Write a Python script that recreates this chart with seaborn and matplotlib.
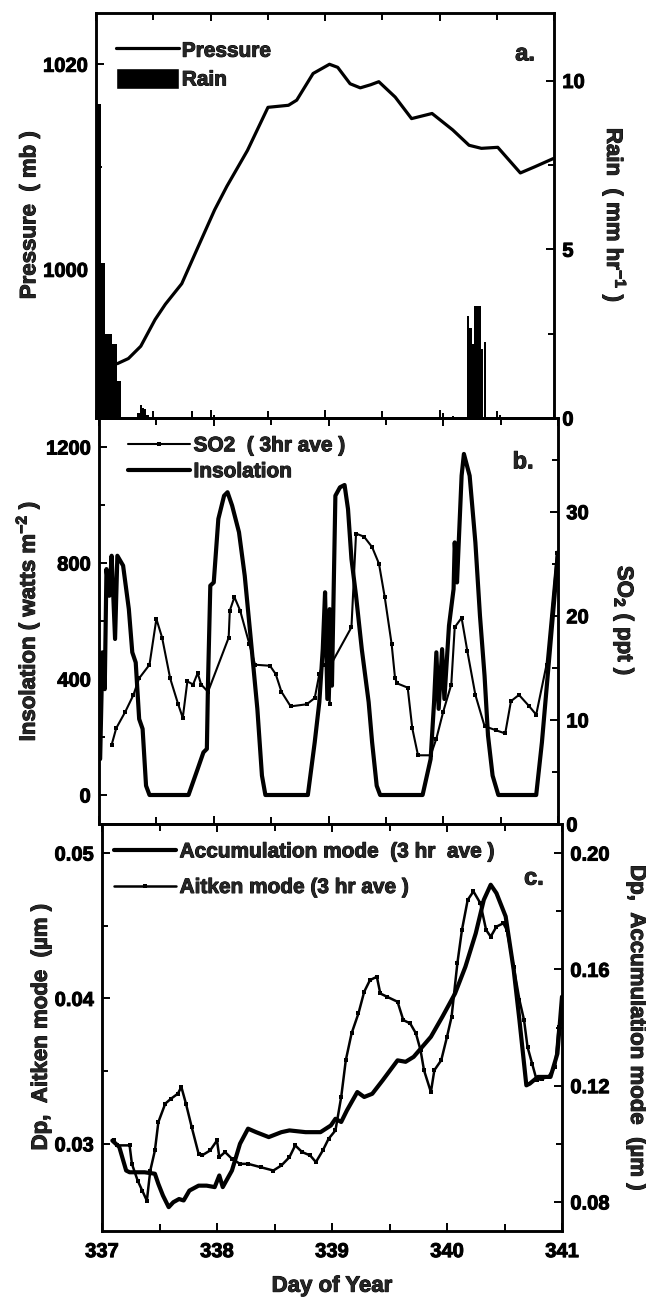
import numpy as np
import pandas as pd
import matplotlib
matplotlib.use("Agg")
import matplotlib.pyplot as plt
import matplotlib.patheffects as pe
import seaborn as sns
from matplotlib.lines import Line2D
from matplotlib.patches import Patch
from matplotlib.text import Text
from matplotlib.ticker import MultipleLocator, FixedLocator, FormatStrFormatter

# ---------------- data ----------------
press_day = [337.186, 337.283, 337.391, 337.516, 337.606, 337.749, 337.892, 338.036, 338.143,
             338.323, 338.502, 338.681, 338.753, 338.896, 339.039, 339.111, 339.219, 339.308,
             339.398, 339.470, 339.613, 339.756, 339.935, 340.115, 340.258, 340.366, 340.509,
             340.706, 340.832, 340.993]
press_mb = [990.8, 991.3, 992.5, 995.1, 996.6, 998.6, 1002.2, 1005.8, 1008.1,
            1011.6, 1015.8, 1016.0, 1016.5, 1019.1, 1020.0, 1019.7, 1018.1, 1017.7,
            1018.0, 1018.3, 1016.8, 1014.7, 1015.2, 1013.6, 1012.1, 1011.8, 1011.9,
            1009.4, 1010.0, 1010.8]

rain_day = [337.010, 337.030, 337.050, 337.070, 337.090, 337.110, 337.130, 337.150, 337.170,
            337.190, 337.210, 337.370, 337.390, 337.410, 337.430, 337.450, 337.840, 338.030,
            340.030, 340.120, 340.250, 340.270, 340.290, 340.310, 340.330, 340.350, 340.370,
            340.400, 340.530]
rain_mm = [9.3, 9.3, 4.6, 4.6, 2.5, 2.5, 2.5, 2.2, 2.2,
           1.1, 1.1, 0.15, 0.4, 0.3, 0.28, 0.1, 0.22, 0.1,
           0.15, 0.05, 3.03, 2.68, 2.18, 3.32, 3.32, 3.32, 2.03,
           2.26, 0.1]

ins_day = [337.01, 337.03, 337.05, 337.065, 337.09, 337.11, 337.14, 337.16, 337.21, 337.26,
           337.29, 337.32, 337.35, 337.38, 337.41, 337.44, 337.78, 337.86, 337.91, 337.94,
           337.95, 337.97, 338.00, 338.04, 338.09, 338.12, 338.16, 338.22, 338.27, 338.32,
           338.38, 338.42, 338.45, 338.82, 338.88, 338.92, 338.95, 338.97, 338.99, 339.01,
           339.03, 339.06, 339.10, 339.14, 339.17, 339.20, 339.24, 339.29, 339.35, 339.38,
           339.42, 339.45, 339.82, 339.89, 339.92, 339.94, 339.96, 339.99, 340.01, 340.05,
           340.09, 340.10, 340.12, 340.16, 340.18, 340.23, 340.28, 340.32, 340.36, 340.39,
           340.43, 340.48, 340.81, 340.86, 340.91, 340.97, 341.00]
ins_wm2 = [124, 492, 365, 779, 687, 825, 538, 825, 791, 641,
           492, 457, 262, 228, 32, 0, 0, 90, 147, 159,
           388, 722, 733, 952, 1032, 1044, 998, 906, 756, 549,
           297, 67, 0, 0, 182, 320, 503, 699, 331, 641,
           377, 1032, 1061, 1069, 986, 814, 687, 503, 320, 182,
           32, 0, 0, 124, 320, 492, 297, 503, 331, 584,
           710, 871, 733, 1101, 1176, 1101, 871, 618, 411, 205,
           67, 0, 0, 182, 411, 687, 837]

so2_day = [337.11, 337.15, 337.23, 337.30, 337.35, 337.44, 337.50, 337.55, 337.62, 337.69,
           337.73, 337.77, 337.82, 337.86, 337.89, 337.95, 338.13, 338.14, 338.18, 338.23,
           338.31, 338.36, 338.49, 338.54, 338.59, 338.67, 338.81, 338.88, 338.92, 338.95,
           338.97, 339.01, 339.02, 339.20, 339.24, 339.31, 339.38, 339.44, 339.49, 339.55,
           339.58, 339.60, 339.69, 339.73, 339.78, 339.89, 339.94, 340.00, 340.07, 340.10,
           340.16, 340.21, 340.28, 340.36, 340.46, 340.54, 340.59, 340.66, 340.75, 340.81,
           340.90, 340.99]
so2_ppt = [7.6, 9.2, 10.8, 12.4, 14.0, 15.3, 19.7, 17.9, 14.0, 11.5,
           10.2, 13.7, 13.4, 14.5, 13.4, 12.7, 17.9, 20.5, 21.8, 20.5,
           17.3, 15.3, 15.2, 14.4, 12.7, 11.3, 11.5, 12.1, 14.4, 15.3,
           22.1, 11.5, 15.3, 18.9, 27.9, 27.6, 26.6, 25.0, 21.8, 17.3,
           14.0, 13.5, 13.1, 9.2, 6.6, 6.6, 8.2, 10.8, 13.4, 18.9,
           19.8, 16.6, 12.4, 9.4, 9.0, 8.7, 11.8, 12.4, 11.3, 10.5,
           15.3, 26.0]

acc_day = [337.09, 337.15, 337.21, 337.24, 337.37, 337.46, 337.49, 337.53, 337.58, 337.62,
           337.67, 337.71, 337.76, 337.84, 337.91, 337.98, 338.02, 338.05, 338.13, 338.20,
           338.27, 338.34, 338.45, 338.56, 338.63, 338.77, 338.90, 338.99, 339.03, 339.08,
           339.13, 339.22, 339.28, 339.35, 339.44, 339.57, 339.64, 339.71, 339.86, 339.96,
           340.07, 340.16, 340.25, 340.32, 340.38, 340.43, 340.51, 340.58, 340.63, 340.69,
           340.72, 340.79, 340.90, 340.96, 341.00]
acc_um = [0.1011, 0.0989, 0.0908, 0.0902, 0.0902, 0.0897, 0.0862, 0.0822, 0.0782, 0.0799,
          0.0810, 0.0805, 0.0839, 0.0856, 0.0856, 0.0851, 0.0891, 0.0851, 0.0908, 0.1000,
          0.1052, 0.1040, 0.1023, 0.1040, 0.1046, 0.1040, 0.1040, 0.1063, 0.1086, 0.1075,
          0.1115, 0.1178, 0.1161, 0.1172, 0.1218, 0.1287, 0.1282, 0.1299, 0.1368, 0.1437,
          0.1517, 0.1609, 0.1724, 0.1839, 0.1891, 0.1862, 0.1782, 0.1598, 0.1425, 0.1201,
          0.1207, 0.1230, 0.1230, 0.1310, 0.1506]

ait_day = [337.10, 337.13, 337.24, 337.26, 337.31, 337.35, 337.39, 337.42, 337.46, 337.49,
           337.55, 337.60, 337.66, 337.69, 337.73, 337.78, 337.84, 337.87, 337.94, 338.00,
           338.02, 338.07, 338.13, 338.20, 338.27, 338.38, 338.49, 338.56, 338.63, 338.68,
           338.74, 338.81, 338.86, 338.92, 338.97, 339.03, 339.08, 339.12, 339.17, 339.23,
           339.28, 339.33, 339.39, 339.42, 339.48, 339.57, 339.62, 339.68, 339.73, 339.77,
           339.80, 339.86, 339.89, 339.95, 340.00, 340.04, 340.09, 340.13, 340.18, 340.23,
           340.29, 340.34, 340.38, 340.43, 340.49, 340.52, 340.58, 340.63, 340.67, 340.70,
           340.74, 340.78, 340.83, 340.88, 340.94, 340.97]
ait_um = [0.03023, 0.02989, 0.02989, 0.02862, 0.02747, 0.02678, 0.02609, 0.02816, 0.02954, 0.03149,
          0.03276, 0.03310, 0.03345, 0.03391, 0.03276, 0.03115, 0.02931, 0.02920, 0.02954, 0.03023,
          0.02908, 0.02943, 0.02897, 0.02862, 0.02862, 0.02839, 0.02816, 0.02851, 0.02908, 0.02989,
          0.02943, 0.02920, 0.02874, 0.02954, 0.03034, 0.03092, 0.03322, 0.03575, 0.03759, 0.03897,
          0.04046, 0.04126, 0.04149, 0.04034, 0.04011, 0.03977, 0.03851, 0.03828, 0.03759, 0.03644,
          0.03506, 0.03356, 0.03506, 0.03575, 0.03736, 0.03874, 0.04241, 0.04471, 0.04678, 0.04736,
          0.04655, 0.04471, 0.04425, 0.04494, 0.04517, 0.04471, 0.04218, 0.03989, 0.03851, 0.03667,
          0.03552, 0.03437, 0.03448, 0.03460, 0.03529, 0.03805]

x_ticks = [337, 338, 339, 340, 341]

# ---------------- style ----------------
sns.set_theme(style="ticks")
plt.rcParams["font.family"] = ["Liberation Sans", "DejaVu Sans"]
plt.rcParams["font.weight"] = "bold"
plt.rcParams["axes.labelweight"] = "bold"
plt.rcParams["mathtext.fontset"] = "custom"
plt.rcParams["mathtext.rm"] = "Liberation Sans:bold"
plt.rcParams["mathtext.it"] = "Liberation Sans:bold"
plt.rcParams["mathtext.bf"] = "Liberation Sans:bold"
plt.rcParams["axes.edgecolor"] = "black"
plt.rcParams["axes.linewidth"] = 1.8
plt.rcParams["xtick.color"] = "black"
plt.rcParams["ytick.color"] = "black"

TICK_FS = 14.5
LAB_FS = 16
LEG_FS = 15

W, H = 646, 1298
fig = plt.figure(figsize=(W / 100, H / 100), dpi=100)


def pos(l, r, t, b):
    return [l / W, 1 - b / H, (r - l) / W, (b - t) / H]


ax_a = fig.add_axes(pos(96, 554, 13, 418))
ax_b = fig.add_axes(pos(99, 558, 418, 824))
ax_c = fig.add_axes(pos(102, 562, 824, 1231))
ax_a2 = ax_a.twinx()
ax_b2 = ax_b.twinx()
ax_c2 = ax_c.twinx()

for ax in (ax_a, ax_b, ax_c):
    ax.set_xlim(337, 341)
    ax.xaxis.set_major_locator(FixedLocator(x_ticks))
    ax.xaxis.set_minor_locator(MultipleLocator(0.5))
    ax.tick_params(axis="x", which="both", direction="in", top=True, bottom=True,
                   width=1.4, labelsize=TICK_FS, pad=8)
    ax.tick_params(axis="x", which="major", length=6)
    ax.tick_params(axis="x", which="minor", length=5)
    ax.tick_params(axis="y", which="both", direction="in", width=1.4, labelsize=TICK_FS,
                   left=True, right=False, pad=6)
    ax.tick_params(axis="y", which="major", length=6)
    ax.tick_params(axis="y", which="minor", length=4)
for ax in (ax_a2, ax_b2, ax_c2):
    ax.tick_params(axis="y", which="both", direction="in", width=1.4, labelsize=TICK_FS,
                   left=False, right=True, pad=6)
    ax.tick_params(axis="y", which="major", length=6)
    ax.tick_params(axis="y", which="minor", length=4)
    for s in ax.spines.values():
        s.set_linewidth(1.8)
ax_a.tick_params(axis="x", labelbottom=False)
ax_b.tick_params(axis="x", labelbottom=False)

# ---------------- panel a ----------------
ax_a2.bar(rain_day, rain_mm, width=0.02, color="black", edgecolor="none", zorder=2)
sns.lineplot(x=press_day, y=press_mb, ax=ax_a, color="black", lw=2.3, estimator=None,
             sort=False, legend=False)
ax_a.set_zorder(ax_a2.get_zorder() + 1)
ax_a.patch.set_visible(False)
ax_a.set_ylim(985.5, 1025)
ax_a.yaxis.set_major_locator(FixedLocator([1000, 1020]))
ax_a.yaxis.set_minor_locator(FixedLocator([990, 1010]))
ax_a2.set_ylim(0, 12)
ax_a2.yaxis.set_major_locator(FixedLocator([0, 5, 10]))
ax_a2.yaxis.set_minor_locator(FixedLocator([2.5, 7.5]))
ax_a.set_ylabel("Pressure  ( mb )", fontsize=LAB_FS, labelpad=2)
ax_a2.set_ylabel("Rain  ( mm hr$^{-1}$ )", fontsize=LAB_FS, rotation=270, va="bottom", labelpad=10)
ax_a.text(0.937, 0.899, "a.", transform=ax_a.transAxes, fontsize=17, fontweight="bold",
          ha="center", va="center")
ax_a.legend([Line2D([], [], color="black", lw=2.3), Patch(facecolor="black")],
            ["Pressure", "Rain"], loc="upper left", bbox_to_anchor=(0.044, 0.935),
            frameon=False, fontsize=LEG_FS, handlelength=3.0, handleheight=1.15,
            handletextpad=0.15, labelspacing=0.35, borderpad=0, borderaxespad=0)

# ---------------- panel b ----------------
sns.lineplot(x=ins_day, y=ins_wm2, ax=ax_b, color="black", lw=3.0, estimator=None,
             sort=False, legend=False)
sns.lineplot(x=so2_day, y=so2_ppt, ax=ax_b2, color="black", lw=1.5, marker="s", ms=3.0,
             markeredgewidth=0, estimator=None, sort=False, legend=False)
ax_b.set_ylim(-100, 1300)
ax_b.yaxis.set_major_locator(FixedLocator([0, 400, 800, 1200]))
ax_b.yaxis.set_minor_locator(FixedLocator([200, 600, 1000]))
ax_b2.set_ylim(0, 39)
ax_b2.yaxis.set_major_locator(FixedLocator([0, 10, 20, 30]))
ax_b2.yaxis.set_minor_locator(FixedLocator([5, 15, 25, 35]))
ax_b.set_ylabel("Insolation ( watts m$^{-2}$ )", fontsize=LAB_FS, labelpad=2)
ax_b2.set_ylabel("SO$_2$ ( ppt )", fontsize=LAB_FS, rotation=270, va="bottom", labelpad=16)
ax_b2.text(0.924, 0.892, "b.", transform=ax_b2.transAxes, fontsize=17, fontweight="bold",
           ha="center", va="center")
ax_b2.legend([Line2D([], [], color="black", lw=1.5, marker="s", ms=3.0, markeredgewidth=0),
              Line2D([], [], color="black", lw=3.0)],
             ["SO2  ( 3hr ave )", "Insolation"], loc="upper left", bbox_to_anchor=(0.063, 0.955),
             frameon=False, fontsize=LEG_FS, handlelength=3.0, handletextpad=0.15,
             labelspacing=0.33, borderpad=0, borderaxespad=0)

# ---------------- panel c ----------------
sns.lineplot(x=ait_day, y=ait_um, ax=ax_c, color="black", lw=1.8, marker="s", ms=3.2,
             markeredgewidth=0, estimator=None, sort=False, legend=False)
sns.lineplot(x=acc_day, y=acc_um, ax=ax_c2, color="black", lw=3.0, estimator=None,
             sort=False, legend=False)
ax_c.set_ylim(0.024, 0.052)
ax_c.yaxis.set_major_locator(FixedLocator([0.03, 0.04, 0.05]))
ax_c.yaxis.set_minor_locator(FixedLocator([0.035, 0.045]))
ax_c.yaxis.set_major_formatter(FormatStrFormatter("%.2f"))
ax_c2.set_ylim(0.07, 0.21)
ax_c2.yaxis.set_major_locator(FixedLocator([0.08, 0.12, 0.16, 0.20]))
ax_c2.yaxis.set_minor_locator(FixedLocator([0.10, 0.14, 0.18]))
ax_c2.yaxis.set_major_formatter(FormatStrFormatter("%.2f"))
ax_c.set_ylabel("Dp,  Aitken mode  (\u00b5m )", fontsize=LAB_FS, labelpad=2)
ax_c2.set_ylabel("Dp,  Accumulation mode  (\u00b5m )", fontsize=LAB_FS, rotation=270,
                 va="bottom", labelpad=12)
ax_c.set_xlabel("Day of Year", fontsize=LAB_FS, labelpad=10.5)
ax_c2.text(0.939, 0.867, "c.", transform=ax_c2.transAxes, fontsize=17, fontweight="bold",
           ha="center", va="center")
ax_c2.legend([Line2D([], [], color="black", lw=3.0),
              Line2D([], [], color="black", lw=1.8, marker="s", ms=3.2, markeredgewidth=0)],
             ["Accumulation mode  (3 hr  ave )", "Aitken mode (3 hr ave )"], loc="upper left",
             bbox_to_anchor=(0.026, 0.955), frameon=False, fontsize=LEG_FS, handlelength=3.0,
             handletextpad=0.15, labelspacing=0.8, borderpad=0, borderaxespad=0)

for ax in (ax_a, ax_b, ax_c, ax_a2, ax_b2, ax_c2):
    for t in ax.get_xticklabels() + ax.get_yticklabels():
        t.set_fontweight("bold")

# thicken all text slightly, like the heavy scanned lettering
for t in fig.findobj(Text):
    t.set_path_effects([pe.withStroke(linewidth=0.7, foreground="black")])

fig.savefig("out.png", dpi=100)
